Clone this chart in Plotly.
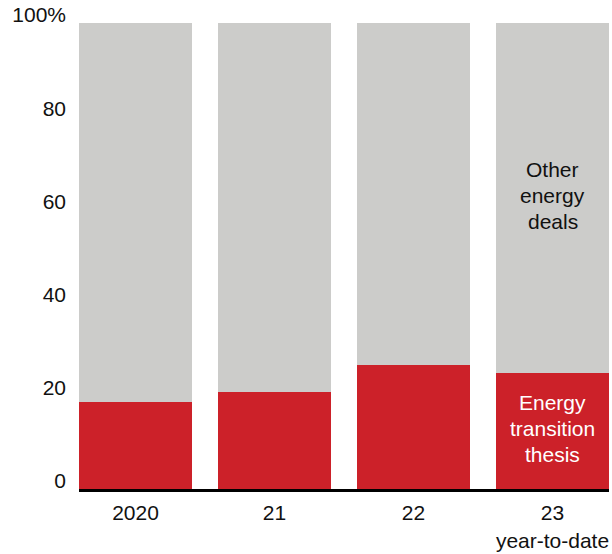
import plotly.graph_objects as go

# Share of energy deals by investment thesis (%)
years = ["2020", "21", "22", "23<br>year-to-date"]
transition_share = [18.7, 20.9, 26.7, 24.8]
other_share = [100 - v for v in transition_share]

y_tick_vals = [0, 20, 40, 60, 80, 100]
y_tick_text = ["0", "20", "40", "60", "80", "100%"]

RED = "#CC2129"
GREY = "#CCCCCA"
FONT = "Liberation Sans, Arial, sans-serif"
SIZE = 21

fig = go.Figure()
fig.add_trace(go.Bar(x=years, y=transition_share, marker=dict(color=RED, line=dict(width=0)),
                     name="Energy transition thesis", hoverinfo="y"))
fig.add_trace(go.Bar(x=years, y=other_share, marker=dict(color=GREY, line=dict(width=0)),
                     name="Other energy deals", hoverinfo="y"))

# In-bar series labels on the last column
for i, line in enumerate(["Other", "energy", "deals"]):
    fig.add_annotation(x=years[-1], y=68.5 - 5.6 * i, text=line, showarrow=False,
                       font=dict(family=FONT, size=SIZE, color="#111111"))
for i, line in enumerate(["Energy", "transition", "thesis"]):
    fig.add_annotation(x=years[-1], y=18.5 - 5.6 * i, text=line, showarrow=False,
                       font=dict(family=FONT, size=SIZE, color="#FFFFFF"))

fig.update_layout(
    barmode="stack",
    bargap=0.187,
    width=612, height=554,
    margin=dict(l=79, r=3, t=23, b=65, autoexpand=False),
    plot_bgcolor="white", paper_bgcolor="white",
    showlegend=False,
    font=dict(family=FONT, size=SIZE, color="#111111"),
    xaxis=dict(range=[-0.4065, 3.4065], showline=True, linecolor="black", linewidth=3,
               ticks="", showgrid=False, zeroline=False, fixedrange=True, automargin=False,
               tickfont=dict(size=SIZE), ticklabelstandoff=3),
    yaxis=dict(range=[0, 100], tickvals=y_tick_vals, ticktext=y_tick_text,
               showgrid=False, zeroline=False, showline=False, ticks="", automargin=False,
               tickfont=dict(size=SIZE), ticklabelstandoff=12, ticklabelshift=-8,
               fixedrange=True),
)

fig.write_html("out.html")
